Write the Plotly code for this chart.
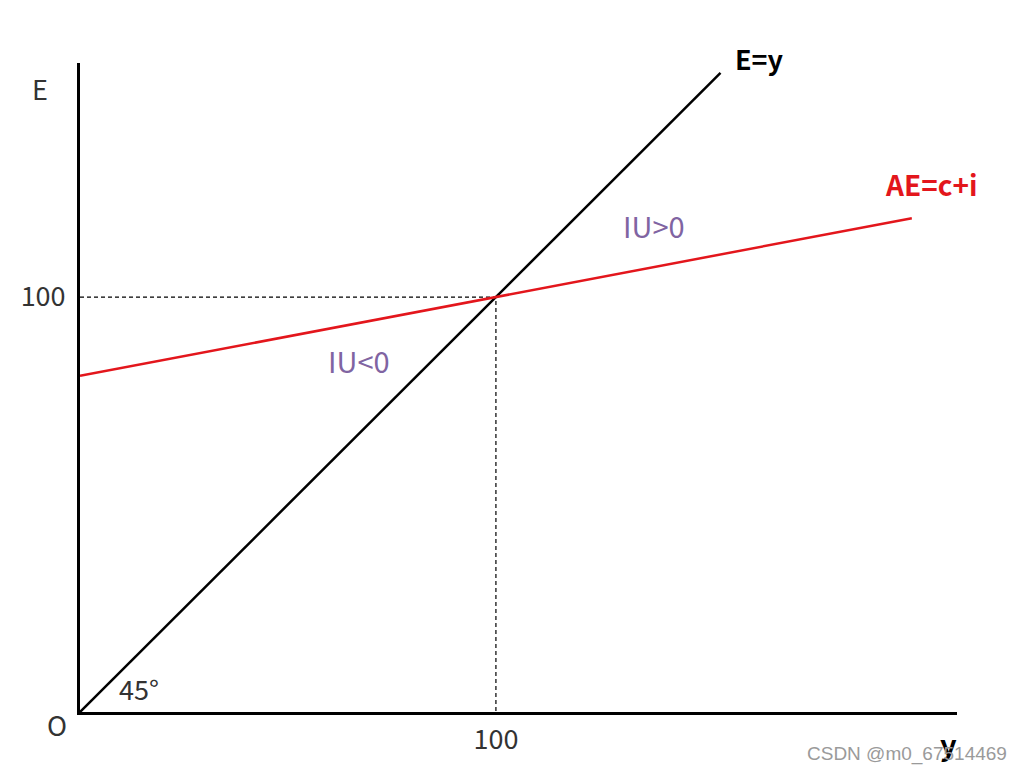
import plotly.graph_objects as go

# 45-degree line E = y
diag_x = [0, 154]
diag_y = [0, 154]

# aggregate expenditure AE = c + i
ae_x = [0, 200]
ae_y = [81, 119]

# equilibrium point
eq_x = 100
eq_y = 100

x_ticks = [100]
x_tick_text = ["100"]
y_ticks = [100]
y_tick_text = ["100"]

x_max = 211.1
y_max = 156.4

label_font = "Noto Sans CJK SC, Noto Sans, Liberation Sans"
text_col = "#333333"
purple = "#8064a2"

# plot area in page pixels (page body adds 8px offset)
ML, MT, PW, PH = 72, 55, 877, 649

fig = go.Figure()

# guide lines to the equilibrium
fig.add_trace(go.Scatter(
    x=[0, eq_x, eq_x], y=[eq_y, eq_y, 0],
    mode="lines", line=dict(color="black", width=1.2, dash="4px,3px"),
    hoverinfo="skip"
))
fig.add_trace(go.Scatter(
    x=diag_x, y=diag_y, mode="lines",
    line=dict(color="black", width=2.5)
))
fig.add_trace(go.Scatter(
    x=ae_x, y=ae_y, mode="lines",
    line=dict(color="#e3161c", width=2.5)
))

fig.update_layout(
    width=1024,
    height=774,
    showlegend=False,
    plot_bgcolor="white",
    paper_bgcolor="white",
    margin=dict(l=ML, r=1024 - ML - PW, t=MT, b=774 - MT - PH),
    xaxis=dict(
        range=[0, x_max * PW / 878], showgrid=False, zeroline=False,
        showline=True, linecolor="black", linewidth=3,
        tickvals=x_ticks, ticktext=x_tick_text, ticks="",
        ticklabelstandoff=2, automargin=False,
        tickfont=dict(size=27, color=text_col, family=label_font),
    ),
    yaxis=dict(
        range=[0, y_max], showgrid=False, zeroline=False,
        showline=True, linecolor="black", linewidth=3,
        tickvals=y_ticks, ticktext=y_tick_text, ticks="",
        ticklabelstandoff=6, automargin=False,
        tickfont=dict(size=27, color=text_col, family=label_font),
    ),
)

notes = [
    dict(text="E", x=40, y=88, color=text_col, size=27, bold=False),
    dict(text="O", x=57, y=724, color=text_col, size=27, bold=False),
    dict(text="45°", x=139, y=688, color=text_col, size=27, bold=False),
    dict(text="E=y", x=759, y=58, color="black", size=27, bold=True),
    dict(text="AE=c+i", x=931, y=184, color="#e3161c", size=28, bold=True),
    dict(text="IU<0", x=359, y=360, color=purple, size=29, bold=False),
    dict(text="IU>0", x=654, y=225, color=purple, size=29, bold=False),
    dict(text="y", x=948, y=743, color="black", size=29, bold=True),
]


def to_paper(px, py):
    return (px - 8 - ML) / PW, (MT + PH - (py - 8)) / PH


for n in notes:
    txt = f"<b>{n['text']}</b>" if n["bold"] else n["text"]
    ax, ay = to_paper(n["x"], n["y"])
    fig.add_annotation(
        text=txt, xref="paper", yref="paper", x=ax, y=ay,
        xanchor="center", yanchor="middle", showarrow=False,
        font=dict(size=n["size"], color=n["color"], family=label_font),
    )

wx, wy = to_paper(907, 754)
fig.add_annotation(
    text="CSDN @m0_67514469", xref="paper", yref="paper", x=wx, y=wy,
    xanchor="center", yanchor="middle", showarrow=False,
    font=dict(size=19, color="#9a9a9a", family="Liberation Sans, Arial"),
)

fig.write_html("out.html")
